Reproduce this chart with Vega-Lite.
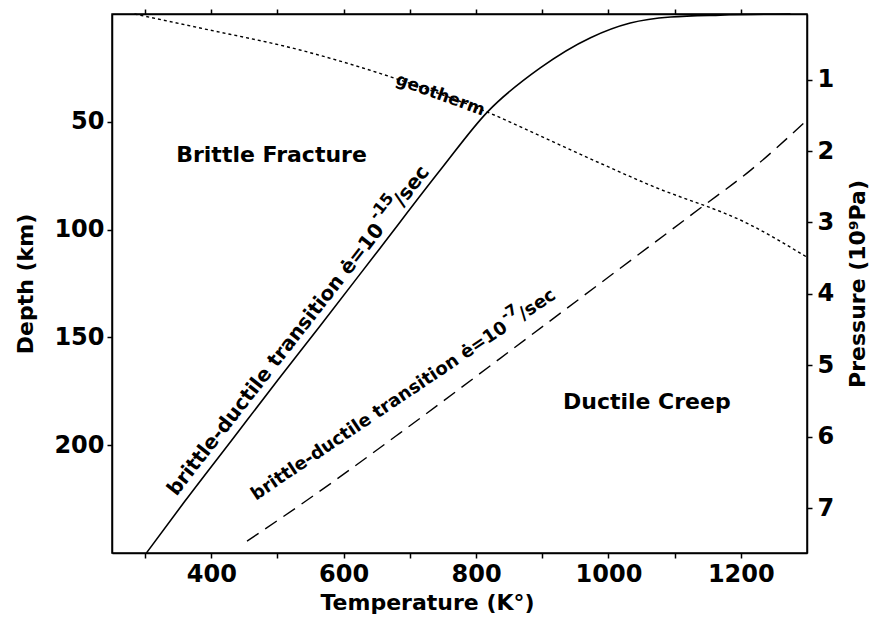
{
  "$schema": "https://vega.github.io/schema/vega-lite/v6.json",
  "width": 695,
  "height": 539,
  "autosize": {"type": "none"},
  "padding": {"left": 112, "top": 14, "right": 76, "bottom": 73},
  "background": "white",
  "config": {
    "view": {"stroke": "black", "strokeWidth": 1.5},
    "font": "DejaVu Sans",
    "axis": {
      "domainColor": "black", "tickColor": "black", "labelColor": "black", "titleColor": "black",
      "labelFont": "DejaVu Sans", "labelFontWeight": "bold", "labelFontSize": 24,
      "titleFont": "DejaVu Sans", "titleFontWeight": "bold", "titleFontSize": 22,
      "grid": false, "domainWidth": 1.5, "tickWidth": 1.5, "tickSize": 5, "format": "d"
    }
  },
  "datasets": {
    "curves": [
      {"curve": "solid", "T": 302, "depth": 250},
      {"curve": "solid", "T": 360, "depth": 226},
      {"curve": "solid", "T": 430, "depth": 198},
      {"curve": "solid", "T": 500, "depth": 170},
      {"curve": "solid", "T": 564, "depth": 144.8},
      {"curve": "solid", "T": 655, "depth": 108.6},
      {"curve": "solid", "T": 746, "depth": 72.4},
      {"curve": "solid", "T": 817, "depth": 45.5},
      {"curve": "solid", "T": 897, "depth": 25},
      {"curve": "solid", "T": 973, "depth": 11},
      {"curve": "solid", "T": 1033, "depth": 4.2},
      {"curve": "solid", "T": 1094, "depth": 1.4},
      {"curve": "solid", "T": 1169, "depth": 0.5},
      {"curve": "solid", "T": 1275, "depth": 0},
      {"curve": "dashed", "T": 454, "depth": 244.5},
      {"curve": "dashed", "T": 534, "depth": 227.8},
      {"curve": "dashed", "T": 685, "depth": 194.4},
      {"curve": "dashed", "T": 837, "depth": 159.6},
      {"curve": "dashed", "T": 988, "depth": 124.8},
      {"curve": "dashed", "T": 1139, "depth": 90},
      {"curve": "dashed", "T": 1215, "depth": 72.4},
      {"curve": "dashed", "T": 1300, "depth": 49.2},
      {"curve": "geotherm", "T": 284, "depth": 0},
      {"curve": "geotherm", "T": 383, "depth": 6.5},
      {"curve": "geotherm", "T": 534, "depth": 16.7},
      {"curve": "geotherm", "T": 685, "depth": 30.6},
      {"curve": "geotherm", "T": 817, "depth": 45.5},
      {"curve": "geotherm", "T": 927, "depth": 60.8},
      {"curve": "geotherm", "T": 1063, "depth": 79.4},
      {"curve": "geotherm", "T": 1215, "depth": 97.9},
      {"curve": "geotherm", "T": 1300, "depth": 112.8}
    ],
    "solidLabel": [{"T": 655, "depth": 98.5, "main": "brittle-ductile  transition  ė=10", "sup": "-15", "tail": "/sec"}],
    "dashedLabel": [{"T": 845, "depth": 144.8, "main": "brittle-ductile  transition  ė=10", "sup": "-7", "tail": "/sec"}]
  },
  "layer": [
    {
      "layer": [
        {
          "data": {"name": "curves"},
          "transform": [{"filter": "datum.curve == 'solid'"}],
          "mark": {"type": "line", "color": "black", "strokeWidth": 1.6, "interpolate": "monotone"},
          "encoding": {
            "x": {"field": "T", "type": "quantitative",
                  "scale": {"domain": [250, 1300], "nice": false, "zero": false},
                  "axis": {"orient": "bottom", "title": "Temperature (K°)", "values": [300, 400, 500, 600, 700, 800, 900, 1000, 1100, 1200],
                           "labelExpr": "datum.value % 200 == 0 ? datum.label : ''", "labelPadding": 4, "titlePadding": 6, "titleX": 208, "titleAnchor": "start", "titleAlign": "left"}},
            "y": {"field": "depth", "type": "quantitative",
                  "scale": {"domain": [0, 250], "reverse": true, "nice": false, "zero": false},
                  "axis": {"orient": "left", "title": "Depth (km)", "values": [50, 100, 150, 200], "labelPadding": 3, "titlePadding": 16}}
          }
        },
        {
          "data": {"name": "curves"},
          "transform": [{"filter": "datum.curve == 'dashed'"}],
          "mark": {"type": "line", "color": "black", "strokeWidth": 1.4, "strokeDash": [14, 8], "interpolate": "monotone"},
          "encoding": {
            "x": {"field": "T", "type": "quantitative"},
            "y": {"field": "depth", "type": "quantitative"}
          }
        },
        {
          "data": {"name": "curves"},
          "transform": [{"filter": "datum.curve == 'geotherm'"}],
          "mark": {"type": "line", "color": "black", "strokeWidth": 1.4, "strokeDash": [3, 3], "interpolate": "monotone"},
          "encoding": {
            "x": {"field": "T", "type": "quantitative"},
            "y": {"field": "depth", "type": "quantitative"}
          }
        },
        {
          "data": {"values": [{"T": 491, "depth": 65.4, "label": "Brittle Fracture"}, {"T": 1058, "depth": 180, "label": "Ductile Creep"}]},
          "mark": {"type": "text", "font": "DejaVu Sans", "fontWeight": "bold", "fontSize": 22, "color": "black"},
          "encoding": {
            "x": {"field": "T", "type": "quantitative"},
            "y": {"field": "depth", "type": "quantitative"},
            "text": {"field": "label"}
          }
        },
        {
          "data": {"values": [{"T": 746, "depth": 37.6, "label": "geotherm"}]},
          "mark": {"type": "text", "font": "DejaVu Sans", "fontWeight": "bold", "fontSize": 17, "color": "black", "angle": 20},
          "encoding": {
            "x": {"field": "T", "type": "quantitative"},
            "y": {"field": "depth", "type": "quantitative"},
            "text": {"field": "label"}
          }
        },
        {
          "data": {"name": "solidLabel"},
          "mark": {"type": "text", "font": "DejaVu Sans", "fontWeight": "bold", "fontSize": 20, "color": "black", "angle": -52, "align": "right"},
          "encoding": {
            "x": {"field": "T", "type": "quantitative"},
            "y": {"field": "depth", "type": "quantitative"},
            "text": {"field": "main"}
          }
        },
        {
          "data": {"name": "solidLabel"},
          "mark": {"type": "text", "font": "DejaVu Sans", "fontWeight": "bold", "fontSize": 16, "color": "black", "angle": -52, "align": "left", "dx": 2, "dy": -11},
          "encoding": {
            "x": {"field": "T", "type": "quantitative"},
            "y": {"field": "depth", "type": "quantitative"},
            "text": {"field": "sup"}
          }
        },
        {
          "data": {"name": "solidLabel"},
          "mark": {"type": "text", "font": "DejaVu Sans", "fontWeight": "bold", "fontSize": 20, "color": "black", "angle": -52, "align": "left", "dx": 29},
          "encoding": {
            "x": {"field": "T", "type": "quantitative"},
            "y": {"field": "depth", "type": "quantitative"},
            "text": {"field": "tail"}
          }
        },
        {
          "data": {"name": "dashedLabel"},
          "mark": {"type": "text", "font": "DejaVu Sans", "fontWeight": "bold", "fontSize": 18, "color": "black", "angle": -34, "align": "right"},
          "encoding": {
            "x": {"field": "T", "type": "quantitative"},
            "y": {"field": "depth", "type": "quantitative"},
            "text": {"field": "main"}
          }
        },
        {
          "data": {"name": "dashedLabel"},
          "mark": {"type": "text", "font": "DejaVu Sans", "fontWeight": "bold", "fontSize": 15, "color": "black", "angle": -34, "align": "left", "dx": 2, "dy": -10},
          "encoding": {
            "x": {"field": "T", "type": "quantitative"},
            "y": {"field": "depth", "type": "quantitative"},
            "text": {"field": "sup"}
          }
        },
        {
          "data": {"name": "dashedLabel"},
          "mark": {"type": "text", "font": "DejaVu Sans", "fontWeight": "bold", "fontSize": 18, "color": "black", "angle": -34, "align": "left", "dx": 18},
          "encoding": {
            "x": {"field": "T", "type": "quantitative"},
            "y": {"field": "depth", "type": "quantitative"},
            "text": {"field": "tail"}
          }
        }
      ]
    },
    {
      "data": {"values": [{"T": 250, "P": 0.08}, {"T": 1300, "P": 7.63}]},
      "mark": {"type": "point", "opacity": 0},
      "encoding": {
        "x": {"field": "T", "type": "quantitative",
              "axis": {"orient": "top", "labels": false, "title": null, "values": [300, 400, 500, 600, 700, 800, 900, 1000, 1100, 1200], "tickSize": 5}},
        "y": {"field": "P", "type": "quantitative",
              "scale": {"domain": [0.08, 7.63], "reverse": true, "nice": false, "zero": false},
              "axis": {"orient": "right", "title": "Pressure (10⁹Pa)", "values": [1, 2, 3, 4, 5, 6, 7], "labelPadding": 5, "titlePadding": 14, "titleAngle": -90, "titleBaseline": "top"}}
      }
    }
  ],
  "resolve": {"scale": {"y": "independent"}, "axis": {"x": "independent"}}
}
